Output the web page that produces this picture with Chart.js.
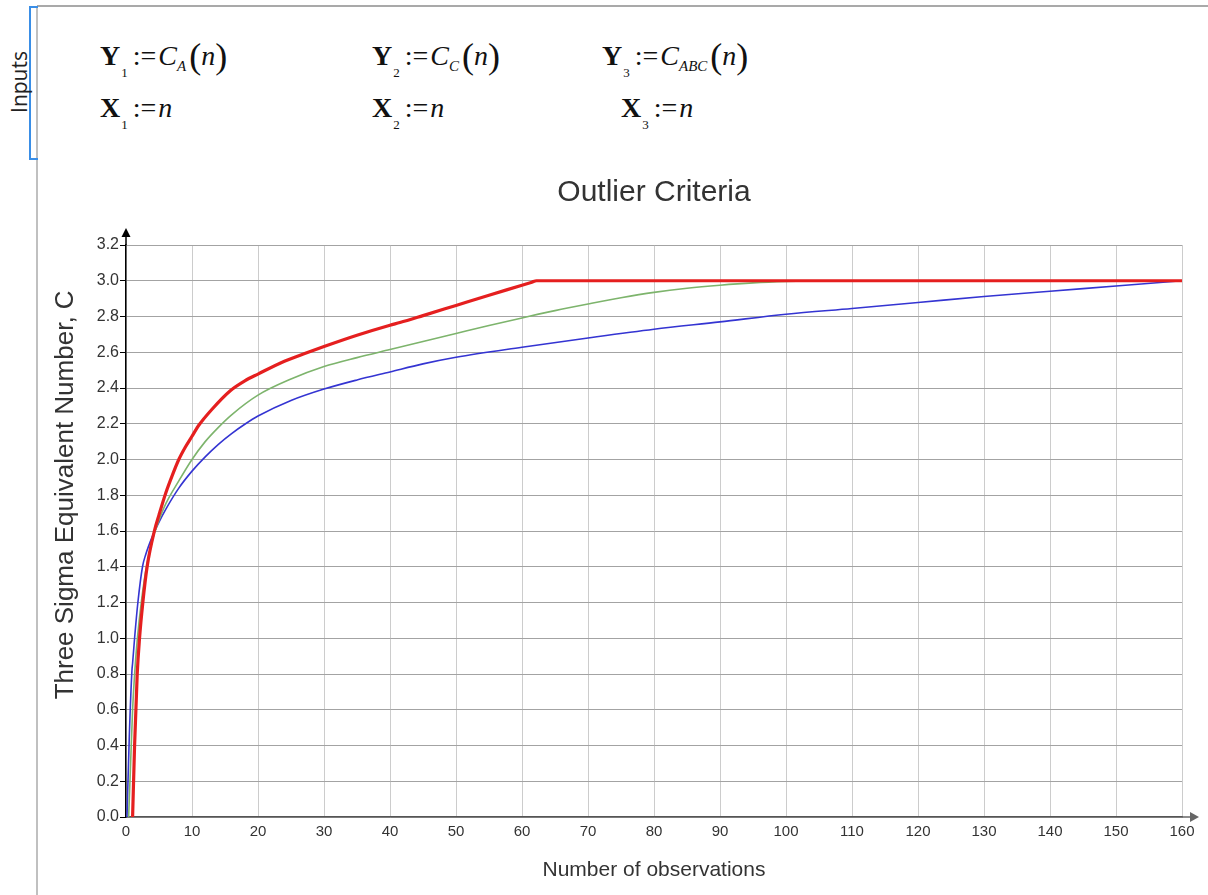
<!DOCTYPE html>
<html lang="en">
<head>
<meta charset="UTF-8">
<title>Outlier Criteria</title>
<style>
    html, body { margin: 0; padding: 0; background: #fff; overflow: hidden; width: 1208px; height: 895px; }
    .sheet { position: relative; width: 1208px; height: 895px; }
    .topline { position: absolute; left: 37px; top: 5px; width: 1171px; height: 2px; background: #a9a9a9; }
    .leftline { position: absolute; left: 36px; top: 6px; width: 2px; height: 889px; background: #c0c0c0; }
    .bracket { position: absolute; left: 29px; top: 6px; width: 7px; height: 150px; border: 2px solid #3a8ee6; border-right: none; }
    .inputs { position: absolute; left: -16px; top: 68px; width: 70px; text-align: center; font: 21px "Open Sans", sans-serif; color: #222; transform: rotate(-90deg); }
    .m { position: absolute; font-family: "Liberation Serif", serif; font-size: 28px; line-height: 1; white-space: nowrap; color: #111; }
    .m .sub { font-size: 13px; position: relative; top: 12px; margin-left: 1px; }
    .m .op { margin: 0 2px 0 5px; }
    .m .si { font-size: 15px; font-style: italic; position: relative; top: 6px; }
    .m .p { font-size: 36px; position: relative; top: 3px; }
    .m .p.l { margin-left: 3px; }
    canvas { position: absolute; left: 0; top: 150px; }
</style>
</head>
<body>
<div class="sheet">
    <div class="topline"></div>
    <div class="leftline"></div>
    <div class="bracket"></div>
    <div class="inputs">Inputs</div>

    <div class="m" style="left:100px;top:35px"><b>Y</b><span class="sub">1</span><span class="op">:=</span><i>C</i><span class="si">A</span><span class="p l">(</span><i>n</i><span class="p">)</span></div>
    <div class="m" style="left:372px;top:35px"><b>Y</b><span class="sub">2</span><span class="op">:=</span><i>C</i><span class="si">C</span><span class="p l">(</span><i>n</i><span class="p">)</span></div>
    <div class="m" style="left:602px;top:35px"><b>Y</b><span class="sub">3</span><span class="op">:=</span><i>C</i><span class="si">ABC</span><span class="p l">(</span><i>n</i><span class="p">)</span></div>

    <div class="m" style="left:100px;top:94px"><b>X</b><span class="sub">1</span><span class="op">:=</span><i>n</i></div>
    <div class="m" style="left:372px;top:94px"><b>X</b><span class="sub">2</span><span class="op">:=</span><i>n</i></div>
    <div class="m" style="left:621px;top:94px"><b>X</b><span class="sub">3</span><span class="op">:=</span><i>n</i></div>

    <canvas id="outlierChart" width="1308" height="745"></canvas>
</div>

<script src="https://cdn.jsdelivr.net/npm/chart.js"></script>
<script>
    // values
    const nRed   = [1, 1.3, 1.7, 2.05, 2.55, 3.2, 4.3, 5, 6, 7, 8, 9, 10, 11, 13, 15.8, 18, 20, 24, 27.6, 30, 35, 40, 41.5, 45, 50, 55, 60, 61.5, 62.2, 160];
    const cRed   = [0, 0.4, 0.8, 1.0, 1.2, 1.4, 1.6, 1.69, 1.81, 1.91, 2.0, 2.07, 2.13, 2.19, 2.28, 2.385, 2.44, 2.478, 2.55, 2.6, 2.632, 2.695, 2.751, 2.766, 2.805, 2.862, 2.919, 2.975, 2.992, 3.0, 3.0];

    const nGreen = [0.4, 0.7, 1, 1.5, 2, 3, 4, 5, 6, 8, 10, 12, 14, 16, 20, 25, 30, 35, 40, 45, 50, 55, 60, 65, 70, 75, 80, 85, 90, 95, 100, 105, 160];
    const cGreen = [0, 0.3, 0.6, 0.9, 1.1, 1.38, 1.55, 1.66, 1.75, 1.88, 2.0, 2.1, 2.18, 2.25, 2.36, 2.45, 2.52, 2.57, 2.615, 2.66, 2.705, 2.75, 2.792, 2.833, 2.87, 2.905, 2.935, 2.958, 2.975, 2.988, 2.996, 3.0, 3.0];

    const nBlue  = [0.15, 0.5, 0.9, 1, 1.3, 1.8, 2.5, 3, 4, 5, 6, 8, 10, 12, 14, 16, 18, 20, 25, 30, 35, 40, 45, 50, 60, 70, 80, 90, 100, 110, 120, 130, 140, 150, 160];
    const cBlue  = [0, 0.45, 0.82, 0.86, 1.0, 1.2, 1.4, 1.47, 1.57, 1.65, 1.72, 1.84, 1.935, 2.015, 2.085, 2.145, 2.197, 2.243, 2.33, 2.394, 2.445, 2.49, 2.535, 2.572, 2.628, 2.68, 2.729, 2.77, 2.813, 2.845, 2.878, 2.912, 2.941, 2.971, 3.0];

    const xTicks = [0, 10, 20, 30, 40, 50, 60, 70, 80, 90, 100, 110, 120, 130, 140, 150, 160];
    const yTicks = [0, 0.2, 0.4, 0.6, 0.8, 1.0, 1.2, 1.4, 1.6, 1.8, 2.0, 2.2, 2.4, 2.6, 2.8, 3.0, 3.2];

    function pts(xs, ys) {
        return xs.map((x, i) => ({ x: x, y: ys[i] }));
    }

    // little arrow heads at the ends of the axes
    const axisArrows = {
        id: 'axisArrows',
        afterDraw(chart) {
            const { ctx, chartArea: a } = chart;
            ctx.save();
            ctx.fillStyle = '#000';
            ctx.strokeStyle = '#000';
            ctx.lineWidth = 1.5;
            ctx.beginPath();
            ctx.moveTo(a.left, a.top);
            ctx.lineTo(a.left, a.top - 10);
            ctx.stroke();
            ctx.beginPath();
            ctx.moveTo(a.left, a.top - 17);
            ctx.lineTo(a.left - 4.5, a.top - 8);
            ctx.lineTo(a.left + 4.5, a.top - 8);
            ctx.closePath();
            ctx.fill();

            ctx.fillStyle = '#666';
            ctx.strokeStyle = '#666';
            ctx.beginPath();
            ctx.moveTo(a.right, a.bottom);
            ctx.lineTo(a.right + 10, a.bottom);
            ctx.stroke();
            ctx.beginPath();
            ctx.moveTo(a.right + 17, a.bottom);
            ctx.lineTo(a.right + 8, a.bottom - 5);
            ctx.lineTo(a.right + 8, a.bottom + 5);
            ctx.closePath();
            ctx.fill();
            ctx.restore();
        }
    };

    const ctx = document.getElementById('outlierChart').getContext('2d');
    new Chart(ctx, {
        type: 'scatter',
        data: {
            datasets: [{
                label: 'C_ABC(n)',
                data: pts(nRed, cRed),
                showLine: true,
                borderColor: '#e51f1f',
                borderWidth: 3.2,
                pointRadius: 0,
                cubicInterpolationMode: 'monotone'
            }, {
                label: 'C_A(n)',
                data: pts(nGreen, cGreen),
                showLine: true,
                borderColor: '#7db46c',
                borderWidth: 1.6,
                pointRadius: 0,
                cubicInterpolationMode: 'monotone'
            }, {
                label: 'C_C(n)',
                data: pts(nBlue, cBlue),
                showLine: true,
                borderColor: '#3434d2',
                borderWidth: 1.6,
                pointRadius: 0,
                cubicInterpolationMode: 'monotone'
            }]
        },
        options: {
            responsive: false,
            animation: false,
            layout: { padding: 0 },
            plugins: {
                legend: { display: false },
                tooltip: { enabled: false },
                title: {
                    display: true,
                    text: 'Outlier Criteria',
                    color: '#333',
                    font: { family: 'Liberation Sans', size: 30, weight: 'normal' },
                    padding: { top: 25, bottom: 34 }
                }
            },
            scales: {
                x: {
                    type: 'linear',
                    min: 0,
                    max: 160,
                    afterBuildTicks: s => { s.ticks = xTicks.map(v => ({ value: v })); },
                    afterFit: s => { s.height = 78; },
                    ticks: {
                        color: '#333',
                        font: { family: 'Liberation Sans', size: 15 },
                        padding: 6,
                        maxRotation: 0
                    },
                    grid: { color: '#cccccc', lineWidth: 1, drawTicks: false },
                    border: { color: '#555', width: 1.5 },
                    title: {
                        display: true,
                        text: 'Number of observations',
                        color: '#333',
                        font: { family: 'Liberation Sans', size: 21 },
                        padding: { top: 0, bottom: 12.4 }
                    }
                },
                y: {
                    type: 'linear',
                    min: 0,
                    max: 3.2,
                    afterBuildTicks: s => { s.ticks = yTicks.map(v => ({ value: v })); },
                    afterFit: s => { s.width = 126; },
                    ticks: {
                        color: '#333',
                        font: { family: 'Liberation Sans', size: 16 },
                        padding: 1,
                        callback: v => v.toFixed(1)
                    },
                    grid: { color: '#a3a3a3', lineWidth: 1, tickColor: '#000', tickLength: 6 },
                    border: { color: '#000', width: 1.5 },
                    title: {
                        display: true,
                        // leading spaces lift the label a little above the axis middle, as in the original
                        text: '          Three Sigma Equivalent Number, C',
                        color: '#333',
                        font: { family: 'Liberation Sans', size: 26 },
                        padding: { top: 50, bottom: 0 }
                    }
                },
                // empty right-hand box so the title centres over the plot
                yr: {
                    axis: 'y',
                    position: 'right',
                    afterFit: s => { s.width = 126; },
                    ticks: { display: false },
                    grid: { display: false },
                    border: { display: false }
                }
            }
        },
        plugins: [axisArrows]
    });
</script>
</body>
</html>
